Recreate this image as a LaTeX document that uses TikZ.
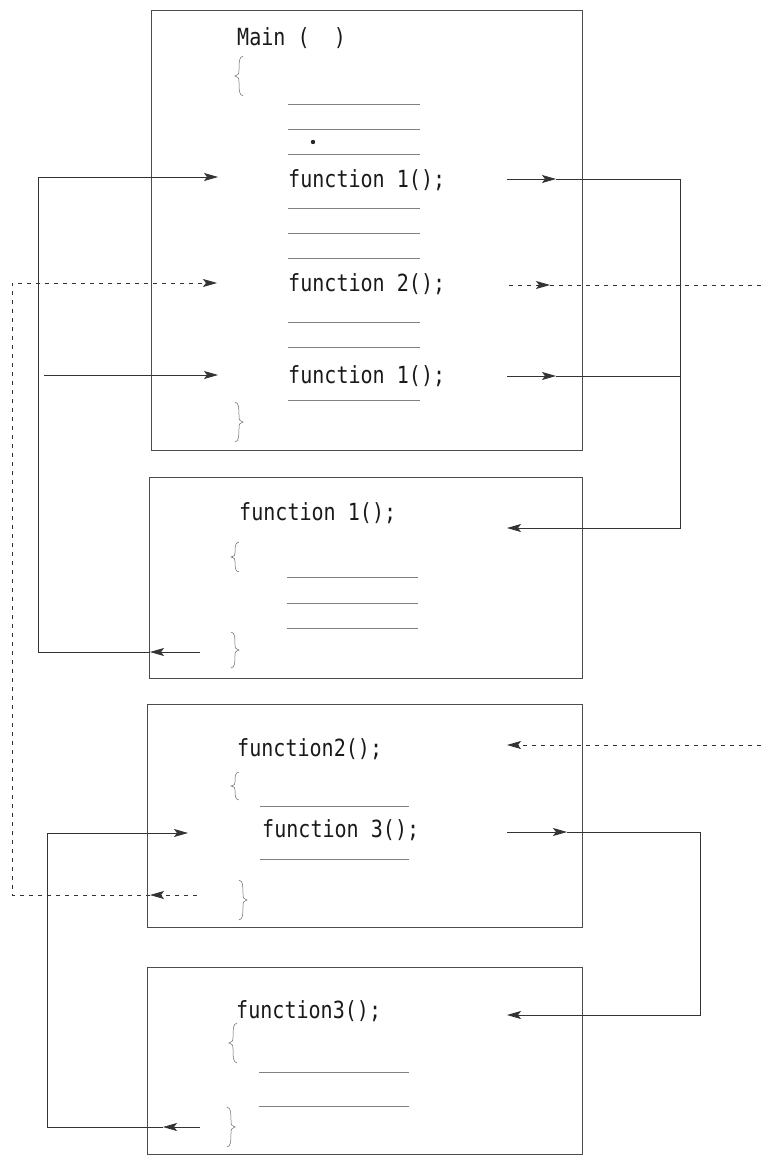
\documentclass[tikz,border=0pt]{standalone}
\usepackage{fontspec}
\newfontfamily\codefont[FakeStretch=0.85]{DejaVu Sans Mono}
\usetikzlibrary{arrows.meta}
\tikzset{
  box/.style={draw=black!70, line width=0.7pt, inner sep=0pt, outer sep=0pt, anchor=north west},
  code/.style={font=\codefont\fontsize{23.6}{28}\selectfont, inner sep=0pt, anchor=base west, text=black!90},
  cline/.style={draw=black!50, line width=0.6pt},
  conn/.style={draw=black!80, line width=0.8pt},
  dconn/.style={conn, dash pattern=on 4pt off 5pt},
  tip/.style={-{Stealth[length=14pt,width=8pt,inset=3pt]}},
  brc/.style={draw=black!60, line width=0.5pt},
  lbr/.pic={\draw[brc] (5,-20) .. controls (1,-19) and (1,-14) .. (1,-6) .. controls (1,-2) .. (-3,0) .. controls (1,2) .. (1,6) .. controls (1,14) and (1,19) .. (5,20);},
  rbr/.pic={\draw[brc] (-5,-20) .. controls (-1,-19) and (-1,-14) .. (-1,-6) .. controls (-1,-2) .. (3,0) .. controls (-1,2) .. (-1,6) .. controls (-1,14) and (-1,19) .. (-5,20);}
}
\begin{document}
\begin{tikzpicture}[x=1pt,y=-1pt]
\useasboundingbox[fill=white] (0,0) rectangle (761,1156);

% boxes
\node[box, minimum width=431pt, minimum height=440pt] (B1) at (151,10) {};
\node[box, minimum width=433pt, minimum height=201pt] (B2) at (149,477) {};
\node[box, minimum width=435pt, minimum height=223pt] (B3) at (147,704) {};
\node[box, minimum width=435pt, minimum height=187pt] (B4) at (147,967) {};

% texts
\node[code] (m0) at (237,46) {Main (~~)};
\node[code] (c1) at (288,187) {function 1();};
\node[code] (c2) at (288,291) {function 2();};
\node[code] (c3) at (288,383) {function 1();};
\node[code] (f1) at (239,520) {function 1();};
\node[code] (f2) at (237,756) {function2();};
\node[code] (c4) at (262,837) {function 3();};
\node[code] (f3) at (236,1018) {function3();};

% braces
\pic at (238,76) {lbr};
\pic at (240,422) {rbr};
\pic[yscale=0.75] at (234,557) {lbr};
\pic[yscale=0.9] at (236,650) {rbr};
\pic[yscale=0.7] at (234,786) {lbr};
\pic at (244,900) {rbr};
\pic at (232,1043) {lbr};
\pic at (232,1127) {rbr};

% placeholder code lines
\foreach \yy in {104,129,154,208,233,258,322,347,400}
  \draw[cline] (288,\yy) -- (420,\yy);
\fill[black!85] (313,142) circle (2.2pt);
\foreach \yy in {577,603,628}
  \draw[cline] (287,\yy) -- (418,\yy);
\foreach \yy in {806,859}
  \draw[cline] (260,\yy) -- (409,\yy);
\foreach \yy in {1072,1106}
  \draw[cline] (259,\yy) -- (409,\yy);

% coordinates
\coordinate (a1s) at (507,179);
\coordinate (a1h) at (556,179);
\coordinate (rA) at (680,179);
\coordinate (rB) at (680,528);
\coordinate (f1in) at (507,528);
\coordinate (a3s) at (507,376);
\coordinate (a3h) at (556,376);
\coordinate (rC) at (680,376);
\coordinate (a2s) at (509,285);
\coordinate (a2h) at (550,285);
\coordinate (edgeA) at (761,285);
\coordinate (edgeB) at (761,745);
\coordinate (f2in) at (507,745);
\coordinate (a4s) at (507,832);
\coordinate (a4h) at (567,832);
\coordinate (rD) at (700,832);
\coordinate (rE) at (700,1015);
\coordinate (f3in) at (507,1015);

\coordinate (ret1s) at (200,652);
\coordinate (ret1h) at (150,652);
\coordinate (lA) at (38,652);
\coordinate (lB) at (38,177);
\coordinate (c1in) at (218,177);
\coordinate (lC) at (44,375);
\coordinate (c3in) at (218,375);

\coordinate (ret2s) at (197,895);
\coordinate (ret2h) at (150,895);
\coordinate (lD) at (12,895);
\coordinate (lE) at (12,283);
\coordinate (c2in) at (217,283);

\coordinate (ret3s) at (200,1127);
\coordinate (ret3h) at (163,1127);
\coordinate (lF) at (47,1127);
\coordinate (lG) at (47,833);
\coordinate (c4in) at (188,833);

% calls on the right
\draw[conn, tip] (a1s) -- (a1h);
\draw[conn, tip] (a1h) -- (rA) -- (rB) -- (f1in);
\draw[conn, tip] (a3s) -- (a3h);
\draw[conn] (a3h) -- (rC);
\draw[dconn, tip] (a2s) -- (a2h);
\draw[dconn] (a2h) -- (edgeA);
\draw[dconn, tip] (edgeB) -- (f2in);
\draw[conn, tip] (a4s) -- (a4h);
\draw[conn, tip] (a4h) -- (rD) -- (rE) -- (f3in);

% returns on the left
\draw[conn, tip] (ret1s) -- (ret1h);
\draw[conn, tip] (ret1h) -- (lA) -- (lB) -- (c1in);
\draw[conn, tip] (lC) -- (c3in);
\draw[dconn, tip] (ret2s) -- (ret2h);
\draw[dconn, tip] (ret2h) -- (lD) -- (lE) -- (c2in);
\draw[conn, tip] (ret3s) -- (ret3h);
\draw[conn, tip] (ret3h) -- (lF) -- (lG) -- (c4in);
\end{tikzpicture}
\end{document}
